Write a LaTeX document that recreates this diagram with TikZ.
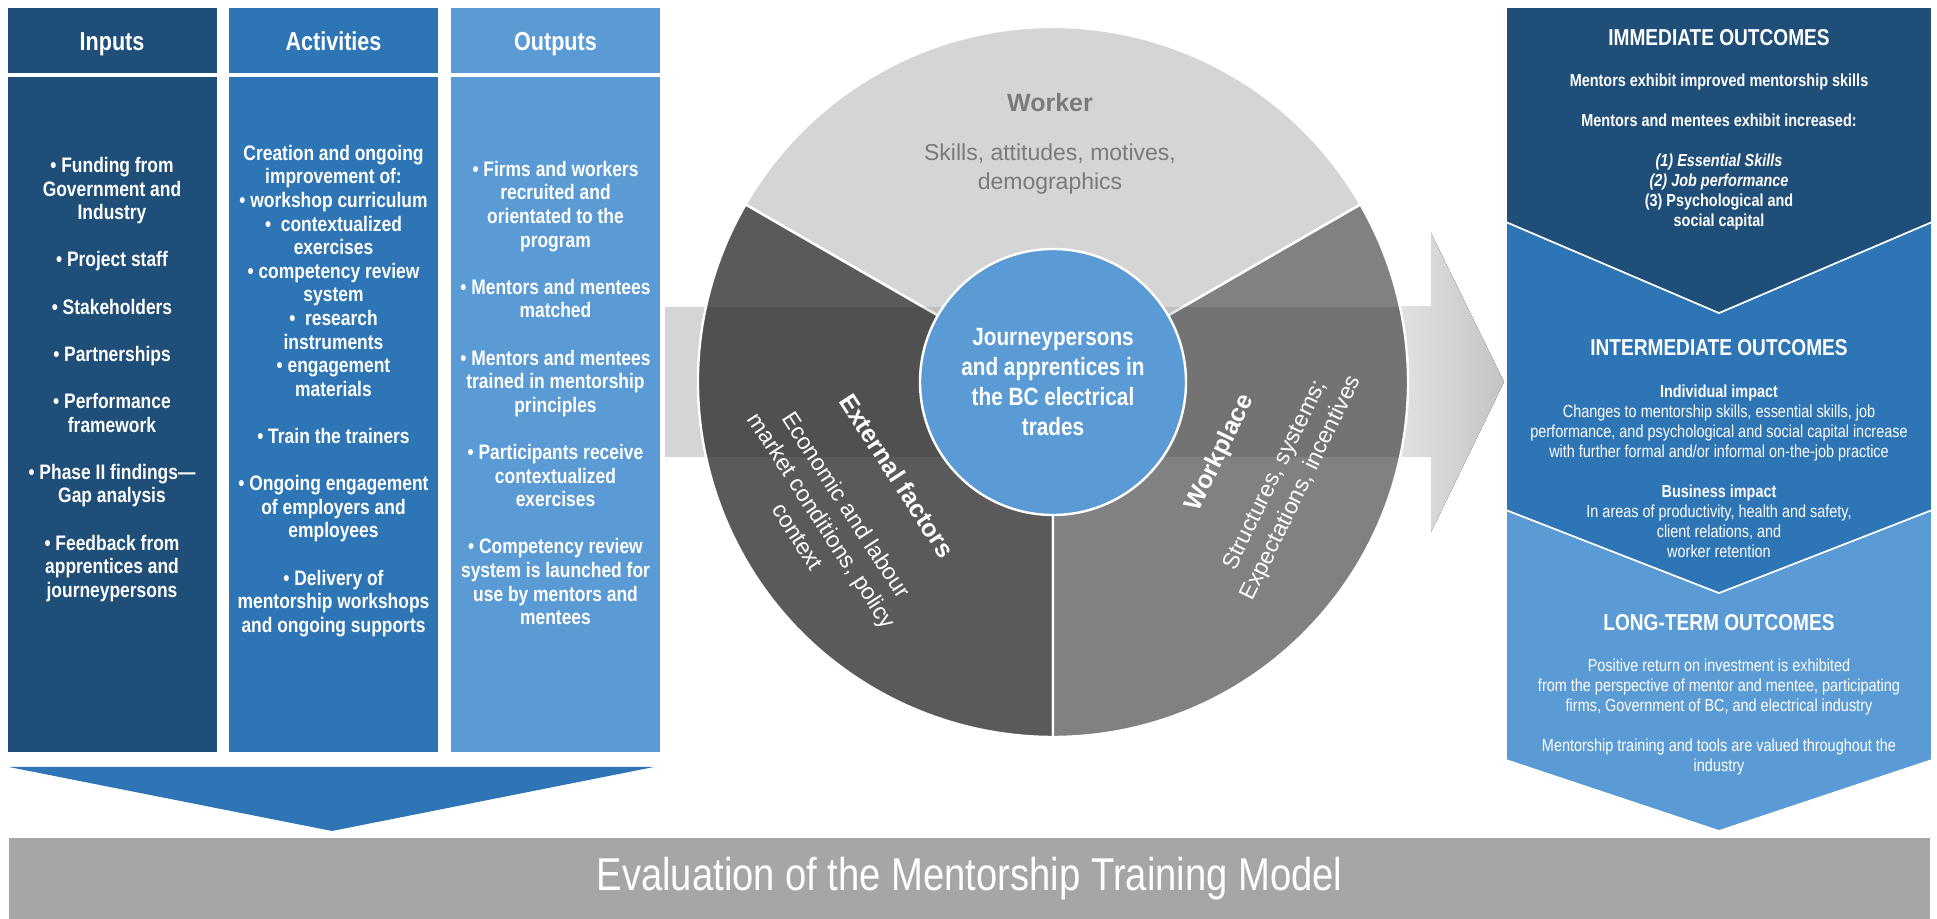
\documentclass[tikz,border=0pt]{standalone}
\usepackage{fontspec}
\setmainfont{Liberation Sans}[FakeStretch = 0.83]
\newfontfamily\plainface{Liberation Sans}
\usetikzlibrary{shapes}

\definecolor{deepBlue}{HTML}{1F4E79}
\definecolor{midBlue}{HTML}{2E75B6}
\definecolor{paleBlue}{HTML}{5B9BD5}
\definecolor{workerGray}{HTML}{D5D5D5}
\definecolor{externalGray}{HTML}{5A5A5A}
\definecolor{workplaceGray}{HTML}{818181}
\definecolor{labelGray}{HTML}{7A7A7A}
\definecolor{barGray}{HTML}{A6A6A6}
\definecolor{bandGray}{HTML}{D5D5D5}
\definecolor{bandLight}{HTML}{E3E3E3}
\definecolor{bandDark}{HTML}{C4C4C4}

\begin{document}
\begin{tikzpicture}[x = 0.5pt, y = 0.5pt]
	\tikzstyle{headStyle} = [minimum width = 104.5pt, minimum height = 32.5pt, inner sep = 0pt, text height = 9.3pt, text depth = 0pt, text = white, font = \fontsize{13}{15}\selectfont\bfseries]
	\tikzstyle{bodyStyle} = [minimum width = 104.5pt, minimum height = 337.5pt, inner sep = 0pt]
	\tikzstyle{listStyle} = [align = center, inner sep = 0pt, text = white, font = \fontsize{10.5}{11.8}\selectfont\bfseries]
	\tikzstyle{sectorStyle} = [draw = white, line width = 1.2pt]
	\tikzstyle{sectorHeadStyle} = [inner sep = 0pt, font = \plainface\bfseries\fontsize{12.5}{15}\selectfont]
	\tikzstyle{sectorTextStyle} = [align = center, inner sep = 0pt, font = \plainface\fontsize{11.5}{14.5}\selectfont]
	\tikzstyle{chevronStyle} = [draw = white, line width = 0.8pt]
	\tikzstyle{outcomeHeadStyle} = [inner sep = 0pt, text = white, font = \fontsize{11.5}{13}\selectfont\bfseries]
	\tikzstyle{outcomeTextStyle} = [align = center, inner sep = 0pt, text = white, font = \fontsize{8.7}{10}\selectfont]
	\useasboundingbox (0, 0) rectangle (1937, 919);

	% logic model columns
	\node[headStyle, fill = deepBlue] (inputsHead) at (112, 878) {Inputs};
	\node[headStyle, fill = midBlue] (activitiesHead) at (333.5, 878) {Activities};
	\node[headStyle, fill = paleBlue] (outputsHead) at (555.5, 878) {Outputs};
	\node[bodyStyle, fill = deepBlue] (inputsBody) at (112, 504.5) {};
	\node[bodyStyle, fill = midBlue] (activitiesBody) at (333.5, 504.5) {};
	\node[bodyStyle, fill = paleBlue] (outputsBody) at (555.5, 504.5) {};
	\node[listStyle] (inputsList) at (112, 539.5) {%
		• Funding from\\Government and\\Industry\\[11.8pt]
		• Project staff\\[11.8pt]
		• Stakeholders\\[11.8pt]
		• Partnerships\\[11.8pt]
		• Performance\\framework\\[11.8pt]
		• Phase II findings—\\Gap analysis\\[11.8pt]
		• Feedback from\\apprentices and\\journeypersons};
	\node[listStyle] (activitiesList) at (333.5, 528) {%
		Creation and ongoing\\improvement of:\\• workshop curriculum\\•\ \ contextualized\\exercises\\
		• competency review\\system\\•\ \ research\\instruments\\• engagement\\materials\\[11.8pt]
		• Train the trainers\\[11.8pt]
		• Ongoing engagement\\of employers and\\employees\\[11.8pt]
		• Delivery of\\mentorship workshops\\and ongoing supports};
	\node[listStyle] (outputsList) at (555.5, 526) {%
		• Firms and workers\\recruited and\\orientated to the\\program\\[11.8pt]
		• Mentors and mentees\\matched\\[11.8pt]
		• Mentors and mentees\\trained in mentorship\\principles\\[11.8pt]
		• Participants receive\\contextualized\\exercises\\[11.8pt]
		• Competency review\\system is launched for\\use by mentors and\\mentees};
	\fill[midBlue] (9, 152) -- (654, 152) -- (332, 88) -- cycle;

	% arrow behind the circle
	\fill[bandGray] (665, 462) rectangle (1100, 612);
	\fill[left color = bandLight, right color = bandDark] (1395, 462) -- (1431, 462) -- (1431, 387) -- (1504, 537) -- (1431, 686) -- (1431, 612) -- (1395, 612) -- cycle;

	% three sectors round the hub
	\coordinate (hubC) at (1053, 537);
	\filldraw[sectorStyle, fill = workerGray] (hubC) -- ++(30:355) arc[start angle = 30, end angle = 150, radius = 355] -- cycle;
	\filldraw[sectorStyle, fill = externalGray] (hubC) -- ++(150:355) arc[start angle = 150, end angle = 270, radius = 355] -- cycle;
	\filldraw[sectorStyle, fill = workplaceGray] (hubC) -- ++(270:355) arc[start angle = 270, end angle = 390, radius = 355] -- cycle;
	\begin{scope}
		\clip (hubC) circle[radius = 354];
		\fill[black, opacity = 0.1] (665, 462) rectangle (1431, 612);
	\end{scope}

	\node[sectorHeadStyle, text = labelGray] (workerHead) at (1050, 816) {Worker};
	\node[sectorTextStyle, text = labelGray] (workerText) at (1050, 749.5) {Skills, attitudes, motives,\\demographics};
	\path (hubC) ++(211:182) node[sectorHeadStyle, text = white, rotate = -57] (externalHead) {External factors};
	\path (hubC) ++(211:269) node[sectorTextStyle, text = white, rotate = -57] (externalText) {Economic and labour\\market conditions, policy\\context};
	\path (hubC) ++(-23:182) node[sectorHeadStyle, text = white, rotate = 64] (workplaceHead) {Workplace};
	\path (hubC) ++(-23:256) node[sectorTextStyle, text = white, rotate = 64] (workplaceText) {Structures, systems;\\Expectations, incentives};

	\node[circle, fill = paleBlue, draw = white, line width = 1.2pt, minimum size = 133pt, inner sep = 0pt, align = center, text = white, font = \fontsize{12.5}{15}\selectfont\bfseries] (hub) at (hubC) {Journeypersons\\and apprentices in\\the BC electrical\\trades};

	% outcome chevrons
	\filldraw[chevronStyle, fill = paleBlue] (1506, 409) -- (1719, 326) -- (1932, 409) -- (1932, 159) -- (1719, 88) -- (1506, 159) -- cycle;
	\filldraw[chevronStyle, fill = midBlue] (1506, 697) -- (1719, 606) -- (1932, 697) -- (1932, 409) -- (1719, 326) -- (1506, 409) -- cycle;
	\filldraw[chevronStyle, fill = deepBlue] (1506, 912) -- (1932, 912) -- (1932, 697) -- (1719, 606) -- (1506, 697) -- cycle;

	\node[outcomeHeadStyle] (immediateHead) at (1719, 881) {IMMEDIATE OUTCOMES};
	\node[outcomeTextStyle, font = \fontsize{8.7}{10}\selectfont\bfseries] (immediateText) at (1719, 767) {%
		Mentors exhibit improved mentorship skills\\[10pt]
		Mentors and mentees exhibit increased:\\[10pt]
		\itshape (1) Essential Skills\\\itshape (2) Job performance\\(3) Psychological and\\social capital};
	\node[outcomeHeadStyle] (intermediateHead) at (1719, 571) {INTERMEDIATE OUTCOMES};
	\node[outcomeTextStyle] (intermediateText) at (1719, 447.5) {%
		\textbf{Individual impact}\\
		Changes to mentorship skills, essential skills, job\\
		performance, and psychological and social capital increase\\
		with further formal and/or informal on-the-job practice\\[10pt]
		\textbf{Business impact}\\
		In areas of productivity, health and safety,\\client relations, and\\worker retention};
	\node[outcomeHeadStyle] (longTermHead) at (1719, 296) {LONG-TERM OUTCOMES};
	\node[outcomeTextStyle] (longTermText) at (1719, 202) {%
		Positive return on investment is exhibited\\
		from the perspective of mentor and mentee, participating\\
		firms, Government of BC, and electrical industry\\[10pt]
		Mentorship training and tools are valued throughout the\\industry};

	\node[fill = barGray, minimum width = 960.5pt, minimum height = 40.5pt, inner sep = 0pt, text = white, font = \fontsize{23}{26}\selectfont] (evalBar) at (969.5, 40.5) {Evaluation of the Mentorship Training Model};
\end{tikzpicture}
\end{document}
